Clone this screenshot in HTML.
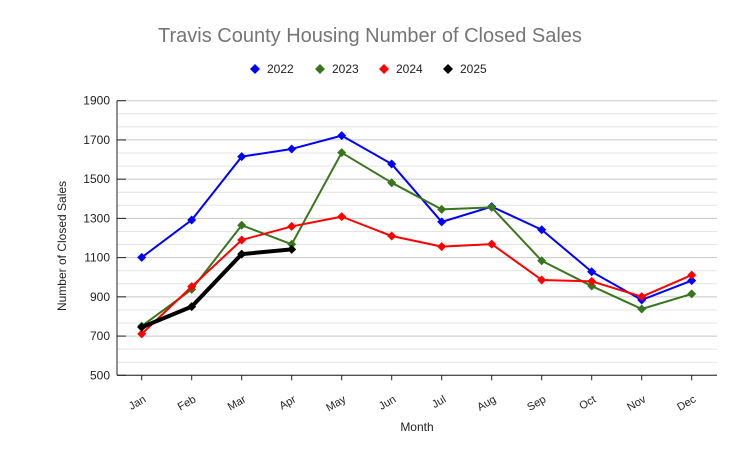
<!DOCTYPE html>
<html><head><meta charset="utf-8"><style>
body{margin:0;background:#fff;font-family:"Liberation Sans",sans-serif}
svg text{font-family:"Liberation Sans",sans-serif}
</style></head><body>
<svg id="chart" width="740" height="458">
<text x="370" y="42" text-anchor="middle" font-size="20" fill="#757575">Travis County Housing Number of Closed Sales</text>
<g id="legend"></g>
<g id="grid"></g>
<g id="yaxis"></g>
<g id="xaxis"></g>
<g id="series"></g>
<text transform="translate(66,246) rotate(-90)" text-anchor="middle" font-size="12" fill="#222">Number of Closed Sales</text>
<text x="417" y="431" text-anchor="middle" font-size="12" fill="#222">Month</text>
</svg>
<script>
const months=["Jan","Feb","Mar","Apr","May","Jun","Jul","Aug","Sep","Oct","Nov","Dec"];
const yTicks=[500,700,900,1100,1300,1500,1700,1900];
const seriesNames=["2022","2023","2024","2025"];
const seriesColors=["#0000ff","#38761d","#ff0000","#000000"];
const s2022=[1101,1292,1615,1654,1722,1577,1282,1360,1242,1028,884,983];
const s2023=[751,938,1265,1168,1635,1482,1346,1356,1084,955,838,915];
const s2024=[711,952,1190,1259,1309,1210,1156,1169,986,979,901,1011];
const s2025=[745,850,1118,1142];
const allSeries=[s2022,s2023,s2024,s2025];
const NS="http://www.w3.org/2000/svg";
const X0=117,X1=717,Y0=375.3,Y1=100.7,ymin=500,ymax=1900;
const xs=i=>141.7+i*50;
const ys=v=>Y0-(v-ymin)/(ymax-ymin)*(Y0-Y1);
function mk(tag,attrs,parent){const e=document.createElementNS(NS,tag);for(const k in attrs)e.setAttribute(k,attrs[k]);parent.appendChild(e);return e;}
const grid=document.getElementById('grid'),ya=document.getElementById('yaxis'),xa=document.getElementById('xaxis'),sg=document.getElementById('series'),lg=document.getElementById('legend');
for(let v=ymin;v<=ymax+0.1;v+=(ymax-ymin)/21){
  const major=Math.abs(((v-ymin)/200)-Math.round((v-ymin)/200))<0.01;
  const l=mk('line',{x1:X0,x2:X1,y1:ys(v),y2:ys(v),stroke:major?'#c8c8c8':'#e4e4e4','stroke-width':1},grid);
  
  
}
yTicks.forEach(v=>{
  const t=mk('text',{x:110,y:ys(v)+4,'text-anchor':'end','font-size':12,fill:'#222'},ya);t.textContent=v;
  
  
  mk('line',{x1:X0,x2:X0+9,y1:ys(v),y2:ys(v),stroke:'#222'},ya);
});
mk('line',{x1:X0,x2:X0,y1:Y1,y2:Y0,stroke:'#222'},ya);
mk('line',{x1:X0,x2:X1,y1:Y0,y2:Y0,stroke:'#222'},xa);
months.forEach((m,i)=>{
  mk('line',{x1:xs(i),x2:xs(i),y1:Y0,y2:Y0+5,stroke:'#222'},xa);
  const t=mk('text',{transform:`translate(${xs(i)+5},${Y0+26}) rotate(-30)`,'text-anchor':'end','font-size':11,fill:'#222'},xa);t.textContent=m;
  
  
});
allSeries.forEach((d,si)=>{
  const c=seriesColors[si],w=si===3?4:2;
  const p=mk('polyline',{points:d.map((v,i)=>xs(i)+','+ys(v)).join(' '),fill:'none',stroke:c,'stroke-width':w,'stroke-linejoin':'round'},sg);
  
  
  d.forEach((v,i)=>{
    const x=xs(i),y=ys(v),r=4.5;
    const m=mk('polygon',{points:`${x},${y-r} ${x+r},${y} ${x},${y+r} ${x-r},${y}`,fill:c},sg);
    
    
  });
});
const lx=[255,320,384,448];
seriesNames.forEach((n,i)=>{
  const x=lx[i],y=69,r=5;
  const g=mk('g',{},lg);
  
  
  mk('polygon',{points:`${x},${y-r} ${x+r},${y} ${x},${y+r} ${x-r},${y}`,fill:seriesColors[i]},g);
  const t=mk('text',{x:x+12,y:y+4,'font-size':12,fill:'#222'},g);t.textContent=n;
});
</script>
</body></html>
